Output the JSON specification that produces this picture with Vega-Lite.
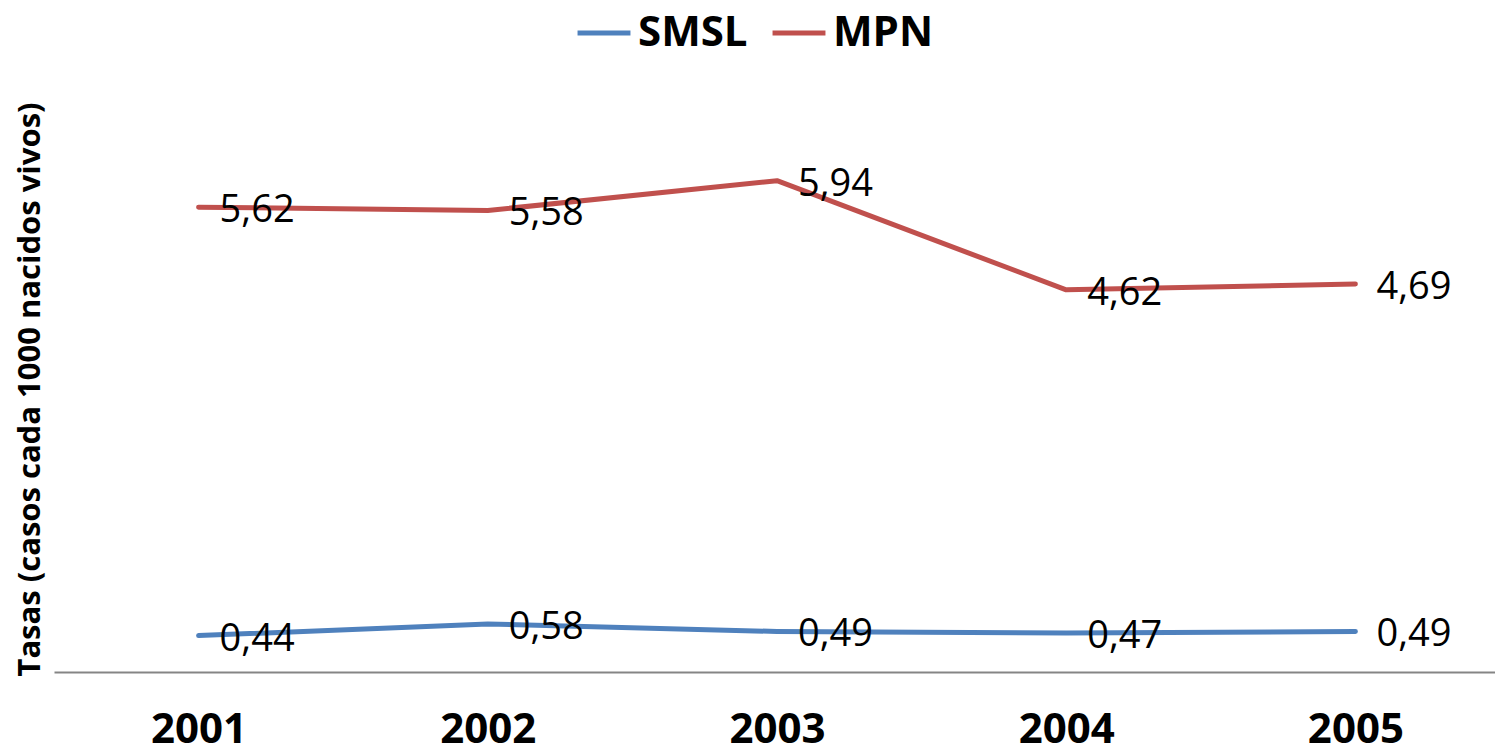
{
  "$schema": "https://vega.github.io/schema/vega-lite/v6.json",
  "width": 1446,
  "height": 579,
  "autosize": {"type": "none"},
  "padding": {"left": 54, "top": 93, "right": 0, "bottom": 82},
  "background": "white",
  "config": {
    "view": {"stroke": null},
    "font": "Open Sans",
    "locale": {"number": {"decimal": ",", "thousands": ".", "grouping": [3], "currency": ["", "€"]}}
  },
  "data": {
    "values": [
      {"year": "2001", "series": "SMSL", "value": 0.44},
      {"year": "2002", "series": "SMSL", "value": 0.58},
      {"year": "2003", "series": "SMSL", "value": 0.49},
      {"year": "2004", "series": "SMSL", "value": 0.47},
      {"year": "2005", "series": "SMSL", "value": 0.49},
      {"year": "2001", "series": "MPN", "value": 5.62},
      {"year": "2002", "series": "MPN", "value": 5.58},
      {"year": "2003", "series": "MPN", "value": 5.94},
      {"year": "2004", "series": "MPN", "value": 4.62},
      {"year": "2005", "series": "MPN", "value": 4.69}
    ]
  },
  "encoding": {
    "x": {
      "field": "year", "type": "ordinal",
      "scale": {"type": "point", "padding": 0.5},
      "axis": {
        "title": null, "domain": true, "domainColor": "#858585", "domainWidth": 2,
        "ticks": false, "grid": false, "labelAngle": 0,
        "labelFontSize": 42, "labelFontWeight": "bold", "labelColor": "black",
        "labelBaseline": "alphabetic", "labelPadding": 70
      }
    },
    "y": {
      "field": "value", "type": "quantitative",
      "scale": {"domain": [0, 7], "nice": false, "zero": true},
      "axis": {
        "title": "Tasas (casos cada 1000 nacidos vivos)",
        "domain": false, "ticks": false, "labels": false, "grid": false,
        "titleFontSize": 31, "titleFontWeight": "bold", "titleColor": "black",
        "titleAngle": -90, "titleX": -24, "titleY": 296,
        "titleAlign": "center", "titleBaseline": "middle"
      }
    }
  },
  "layer": [
    {
      "mark": {"type": "line", "strokeWidth": 5, "strokeCap": "round", "strokeJoin": "round"},
      "encoding": {
        "color": {
          "field": "series", "type": "nominal",
          "scale": {"domain": ["SMSL", "MPN"], "range": ["#4F81BD", "#C0504D"]},
          "legend": {
            "title": null, "orient": "none", "direction": "horizontal",
            "legendX": 521, "legendY": -89,
            "symbolType": "stroke", "symbolSize": 2800, "symbolStrokeWidth": 5,
            "labelFontSize": 42, "labelFontWeight": "bold", "labelColor": "black",
            "labelOffset": 5, "columnPadding": 14
          }
        }
      }
    },
    {
      "mark": {"type": "text", "align": "left", "baseline": "alphabetic", "dx": 21, "dy": 15, "fontSize": 38, "color": "black"},
      "encoding": {
        "text": {"field": "value", "type": "quantitative", "format": ".2f"},
        "detail": {"field": "series", "type": "nominal"}
      }
    }
  ]
}
